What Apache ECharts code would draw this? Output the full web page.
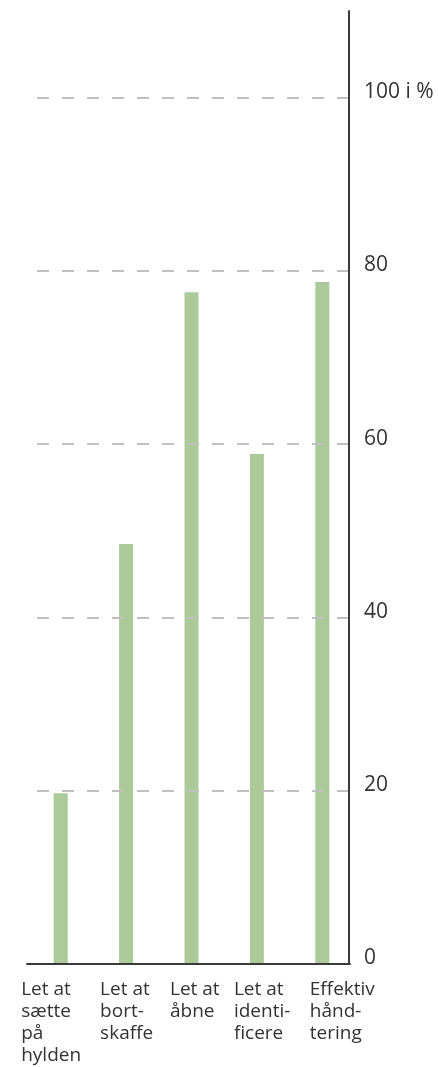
<!DOCTYPE html>
<html>
<head>
<meta charset="utf-8">
<script src="https://cdn.jsdelivr.net/npm/echarts@6/dist/echarts.min.js"></script>
<style>
html,body{margin:0;padding:0;background:#ffffff;}
#chart{width:438px;height:1067px;}
</style>
</head>
<body>
<div id="chart"></div>
<script>
const categories = [
  'Let at\nsætte\npå\nhylden',
  'Let at\nbort-\nskaffe',
  'Let at\nåbne',
  'Let at\nidenti-\nficere',
  'Effektiv\nhånd-\ntering'
];
const values = [19.6, 48.4, 77.5, 58.8, 78.7];
const yTicks = [0, 20, 40, 60, 80, 100];
const yUnitLabel = '100 i %';

const chart = echarts.init(document.getElementById('chart'), null, {renderer: 'canvas'});

const FONT = '"Open Sans", "Noto Sans", sans-serif';
const textColor = '#333333';
const axisColor = '#3a3a3a';

const richLabels = {
  c0: {width: 79, align: 'left', fontSize: 19, lineHeight: 22, color: textColor, fontFamily: FONT},
  c1: {width: 52, align: 'left', fontSize: 19, lineHeight: 22, color: textColor, fontFamily: FONT},
  c2: {width: 43, align: 'left', fontSize: 19, lineHeight: 22, color: textColor, fontFamily: FONT},
  c3: {width: 46, align: 'left', fontSize: 19, lineHeight: 22, color: textColor, fontFamily: FONT},
  c4: {width: 25, align: 'left', fontSize: 19, lineHeight: 22, color: textColor, fontFamily: FONT}
};

const option = {
  backgroundColor: '#ffffff',
  animation: false,
  grid: [
    {left: 37, right: 89, top: 11, bottom: 103, containLabel: false},
    {left: 28, right: 83, top: 11, bottom: 103, containLabel: false},
    {left: 27, right: 88, top: 11, bottom: 103, containLabel: false}
  ],
  xAxis: [
    {gridIndex: 0, type: 'value', min: 0, max: 1, show: false},
    {
      gridIndex: 1, type: 'category', data: categories,
      axisLine: {show: false}, axisTick: {show: false},
      axisLabel: {
        interval: 0, margin: 16, align: 'center', verticalAlign: 'top',
        fontFamily: FONT, fontSize: 19, lineHeight: 22, color: textColor,
        formatter: function (v, i) {
          return v.split('\n').map(function (l) { return '{c' + i + '|' + l + '}'; }).join('\n');
        },
        rich: richLabels
      }
    },
    {
      gridIndex: 2, type: 'value', min: 0, max: 1,
      axisLine: {show: true, onZero: false, lineStyle: {color: axisColor, width: 2}},
      axisTick: {show: false}, axisLabel: {show: false}, splitLine: {show: false}
    }
  ],
  yAxis: [
    {
      gridIndex: 0, type: 'value', position: 'right', min: 0, max: 110, interval: 20, z: 5,
      axisLine: {show: true, onZero: false, lineStyle: {color: axisColor, width: 2}},
      axisTick: {show: false},
      axisLabel: {
        show: true, margin: 15, showMaxLabel: false,
        fontFamily: FONT, fontSize: 21, color: textColor,
        verticalAlign: 'bottom', lineHeight: 11,
        formatter: function (v) {
          if (yTicks.indexOf(v) < 0) return '';
          return v === 100 ? yUnitLabel : String(v);
        }
      },
      splitLine: {
        show: true, showMinLine: false, showMaxLine: false,
        lineStyle: {color: '#c0c0c0', width: 2, type: [12, 13]}
      }
    },
    {gridIndex: 1, type: 'value', min: 0, max: 110, show: false},
    {gridIndex: 2, type: 'value', min: 0, max: 110, show: false}
  ],
  series: [
    {
      type: 'bar', xAxisIndex: 1, yAxisIndex: 1, data: values,
      barWidth: 14, itemStyle: {color: '#acc99a'}, z: 2, silent: true
    }
  ]
};
chart.setOption(option);
</script>
</body>
</html>
